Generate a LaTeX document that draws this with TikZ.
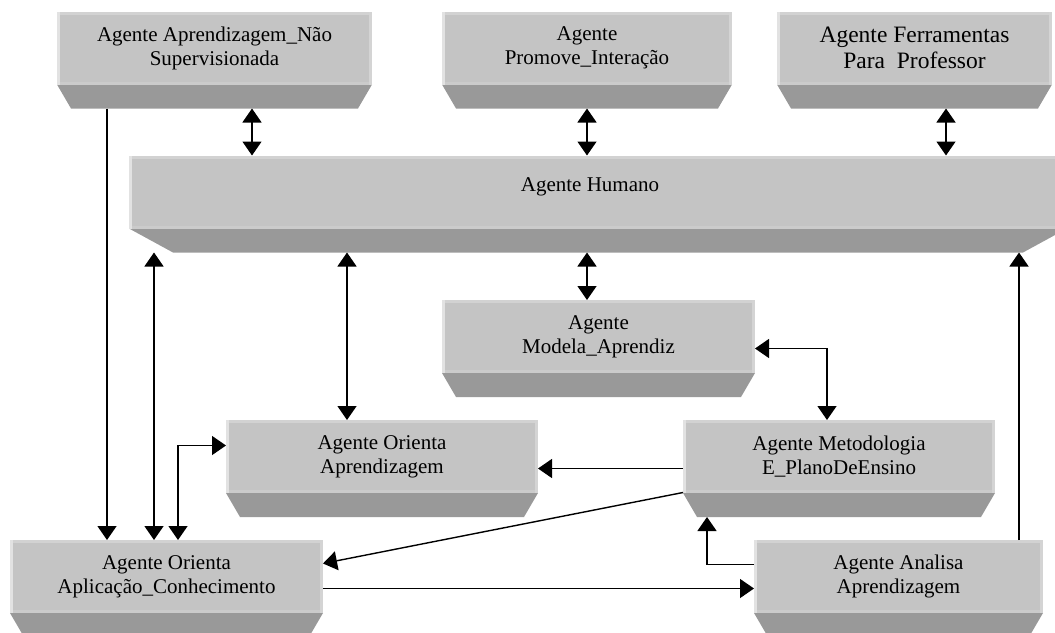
\documentclass[tikz,border=0pt]{standalone}
\usepackage{fontspec}
\setmainfont{Liberation Serif}
\usetikzlibrary{arrows.meta,calc}
\definecolor{cMid}{HTML}{C4C4C4}
\definecolor{cHi}{HTML}{D2D2D2}
\definecolor{cLeft}{HTML}{E2E2E2}
\definecolor{cRight}{HTML}{D4D4D4}
\definecolor{cLow}{HTML}{CBCBCB}
\definecolor{cBot}{HTML}{999999}
\tikzset{
  agent/.style={inner sep=0pt, outer sep=0pt, minimum height=97pt,
    path picture={
      \fill[cBot] ([yshift=24pt]path picture bounding box.south west) -- ([yshift=24pt]path picture bounding box.south east) -- ([xshift=-#1]path picture bounding box.south east) -- ([xshift=#1]path picture bounding box.south west) -- cycle;
      \fill[cMid] ([yshift=24pt]path picture bounding box.south west) rectangle (path picture bounding box.north east);
      \fill[cLow] ([yshift=24pt]path picture bounding box.south west) rectangle ([yshift=27pt]path picture bounding box.south east);
      \fill[cHi] ([yshift=-3pt]path picture bounding box.north west) rectangle (path picture bounding box.north east);
      \fill[cLeft] ([yshift=24pt]path picture bounding box.south west) rectangle ([xshift=2.5pt]path picture bounding box.north west);
      \fill[cRight] ([yshift=24pt,xshift=-3pt]path picture bounding box.south east) rectangle (path picture bounding box.north east);
    }},
  agent/.default=14pt,
  txt/.style={align=center, yshift=12pt, font=\fontsize{21}{24}\selectfont},
  bigtxt/.style={align=center, yshift=12pt, font=\fontsize{23.5}{26}\selectfont},
  arr/.style={line width=1.4pt, -{Triangle[width=19pt,length=14pt]}},
  dbl/.style={line width=1.4pt, {Triangle[width=19pt,length=14pt]}-{Triangle[width=19pt,length=14pt]}},
}
\begin{document}
\begin{tikzpicture}[x=1pt,y=-1pt]
\useasboundingbox (0,0) rectangle (1055,632);
\node[agent, minimum width=315pt, label={[txt,name=At]center:Agente Aprendizagem\_Não\\Supervisionada}] (A) at (214.5,60) {};
\node[agent, minimum width=290pt, label={[txt,name=Bt]center:Agente\\Promove\_Interação}] (B) at (587,60) {};
\node[agent, minimum width=275pt, label={[bigtxt,name=Ct]center:Agente Ferramentas\\Para\ \ Professor}] (C) at (914.5,60) {};
\node[agent=44pt, minimum width=938pt, label={[txt,name=Ht,xshift=-8pt,yshift=5pt]center:Agente Humano}] (H) at (598,204) {};
\node[agent, minimum width=313pt, label={[txt,name=Mt]center:Agente\\Modela\_Aprendiz}] (M) at (598.5,348.5) {};
\node[agent, minimum width=312pt, label={[txt,name=OAt]center:Agente Orienta\\Aprendizagem}] (OA) at (382,468.5) {};
\node[agent, minimum width=312pt, label={[txt,name=MEt]center:Agente Metodologia\\E\_PlanoDeEnsino}] (ME) at (839,468.5) {};
\node[agent, minimum width=289pt, label={[txt,name=AAt]center:Agente Analisa\\Aprendizagem}] (AA) at (898.5,588.5) {};
\node[agent, minimum width=313pt, label={[txt,name=OCt]center:Agente Orienta\\Aplicação\_Conhecimento}] (OC) at (166.5,588.5) {};

% top row to Humano
\draw[dbl] (A.south -| 252,0) -- (H.north -| 252,0);
\draw[dbl] (B.south -| 587,0) -- (H.north -| 587,0);
\draw[dbl] (C.south -| 946,0) -- (H.north -| 946,0);
% A down to OC
\draw[arr] (A.south -| 107,0) -- (OC.north -| 107,0);
% Humano to OC, OA, M
\draw[dbl] (H.south -| 154,0) -- (OC.north -| 154,0);
\draw[dbl] (H.south -| 347,0) -- (OA.north -| 347,0);
\draw[dbl] (H.south -| 587,0) -- (M.north -| 587,0);
% OC <-> OA
\draw[dbl] (OC.north -| 178,0) |- ([yshift=23pt]OA.west);
% M <-> ME
\draw[dbl] (M.east) -| (ME.north -| 827,0);
% ME -> OA
\draw[arr] (ME.west) -- (ME.west -| OA.east);
% ME -> OC
\draw[arr] ([yshift=-24pt]ME.west) -- ([yshift=25pt]OC.east);
% OC -> AA
\draw[arr] (OC.east) -- (AA.west);
% AA -> ME
\draw[arr] ([yshift=24pt]AA.west) -| (ME.south -| 707,0);
% AA -> H
\draw[arr] (AA.north -| 1019,0) -- (H.south -| 1019,0);
\end{tikzpicture}
\end{document}
